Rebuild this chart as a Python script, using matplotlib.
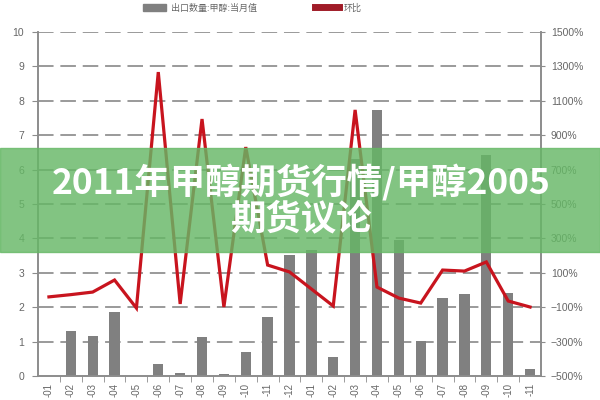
"""
Methanol export volume (monthly) vs. month-on-month change, dual axis,
with the green title banner laid across the middle of the chart.

Usage: python plot.py
Outputs: out.png
"""

import matplotlib
matplotlib.use("Agg")
import matplotlib.pyplot as plt
from matplotlib.patches import Rectangle, Patch
from matplotlib.lines import Line2D

plt.rcParams["font.family"] = ["Noto Sans CJK SC", "DejaVu Sans"]

MONTHS = ["-01", "-02", "-03", "-04", "-05", "-06", "-07", "-08", "-09", "-10", "-11", "-12",
          "-01", "-02", "-03", "-04", "-05", "-06", "-07", "-08", "-09", "-10", "-11"]
EXPORT_QTY = [0, 1.3, 1.17, 1.85, 0, 0.35, 0.1, 1.14, 0.06, 0.7, 1.71, 3.53,
              3.65, 0.55, 6.3, 7.73, 3.95, 1.03, 2.27, 2.38, 6.42, 2.41, 0.21]
MOM_PCT = [-40, -27, -12, 58, -105, 1267, -81, 994, -99, 831, 145, 105,
           6, -93, 1047, 17, -47, -76, 116, 110, 163, -64, -99]

LEFT_TICKS = list(range(0, 11))
RIGHT_TICKS = list(range(-500, 1501, 200))

LEGEND_BAR = "出口数量:甲醇:当月值"
LEGEND_LINE = "环比"
TITLE_1 = "2011年甲醇期货行情/甲醇2005"
TITLE_2 = "期货议论"

GREY = "#808080"
AXIS = "#8c8c8c"
RED = "#c8141e"


def main():
    fig = plt.figure(figsize=(6, 4), dpi=100)
    ax = fig.add_axes([38 / 600, 1 - 376 / 400, 503 / 600, 344 / 400])
    ax2 = ax.twinx()

    x = list(range(len(MONTHS)))
    ax.bar(x, EXPORT_QTY, width=0.47, color=GREY, zorder=2)
    ax2.plot(x, MOM_PCT, color=RED, lw=2.3, solid_joinstyle="miter", zorder=3)

    ax.set_xlim(-0.5, len(MONTHS) - 0.5)
    ax.set_ylim(0, 10)
    ax2.set_ylim(-500, 1500)
    ax.set_yticks(LEFT_TICKS)
    ax2.set_yticks(RIGHT_TICKS)
    ax2.set_yticklabels([f"{v}%".replace("-", "\u2212") for v in RIGHT_TICKS])

    for v in LEFT_TICKS[1:]:
        ax.axhline(v, color="#9a9a9a", lw=1.4, ls=(0, (8, 3.5)), zorder=1)

    ax.set_xticks(x)
    ax.set_xticklabels(MONTHS, rotation=90, fontsize=7, color="#666666",
                       family=["Liberation Sans", "DejaVu Sans"])
    ax.tick_params(axis="x", length=0, pad=5)
    ax.set_xticks([i - 0.5 for i in range(1, len(MONTHS))], minor=True)
    ax.tick_params(axis="x", which="minor", length=4, color=AXIS)

    ax.tick_params(axis="y", length=4, color=AXIS, labelcolor="#666666",
                   labelsize=7.5, pad=6)
    ax2.tick_params(axis="y", length=3, color=AXIS, labelcolor="#666666",
                    labelsize=7.5, pad=4)
    for lab in ax.get_yticklabels() + ax2.get_yticklabels():
        lab.set_family(["Liberation Sans", "DejaVu Sans"])

    for a in (ax, ax2):
        a.spines["top"].set_visible(False)
        for s in ("left", "right", "bottom"):
            a.spines[s].set_color(AXIS)
            a.spines[s].set_linewidth(1.2)

    # legend squeezed against the top edge
    fig.legend(handles=[Patch(color=GREY), Line2D([], [], color="#a01c28", lw=5)],
               labels=[LEGEND_BAR, LEGEND_LINE], loc="center", ncol=2,
               bbox_to_anchor=(0.42, 1 - 8 / 400), frameon=False, fontsize=6.5,
               columnspacing=6.5, handlelength=2.6, handletextpad=0.5,
               borderpad=0, labelcolor="#666666")

    # green title banner across the chart
    fig.patches.append(Rectangle((0, 1 - 252 / 400), 1, 104 / 400,
                                 transform=fig.transFigure, color=(0.40, 0.72, 0.40),
                                 alpha=0.82, zorder=10))
    fig.text(0.502, 1 - 183 / 400, TITLE_1, ha="center", va="center", color="white",
             fontsize=25.5, fontweight="bold", zorder=11)
    fig.text(0.502, 1 - 219 / 400, TITLE_2, ha="center", va="center", color="white",
             fontsize=25.5, fontweight="bold", zorder=11)

    fig.savefig("out.png", dpi=100)
    plt.close(fig)


if __name__ == "__main__":
    main()
